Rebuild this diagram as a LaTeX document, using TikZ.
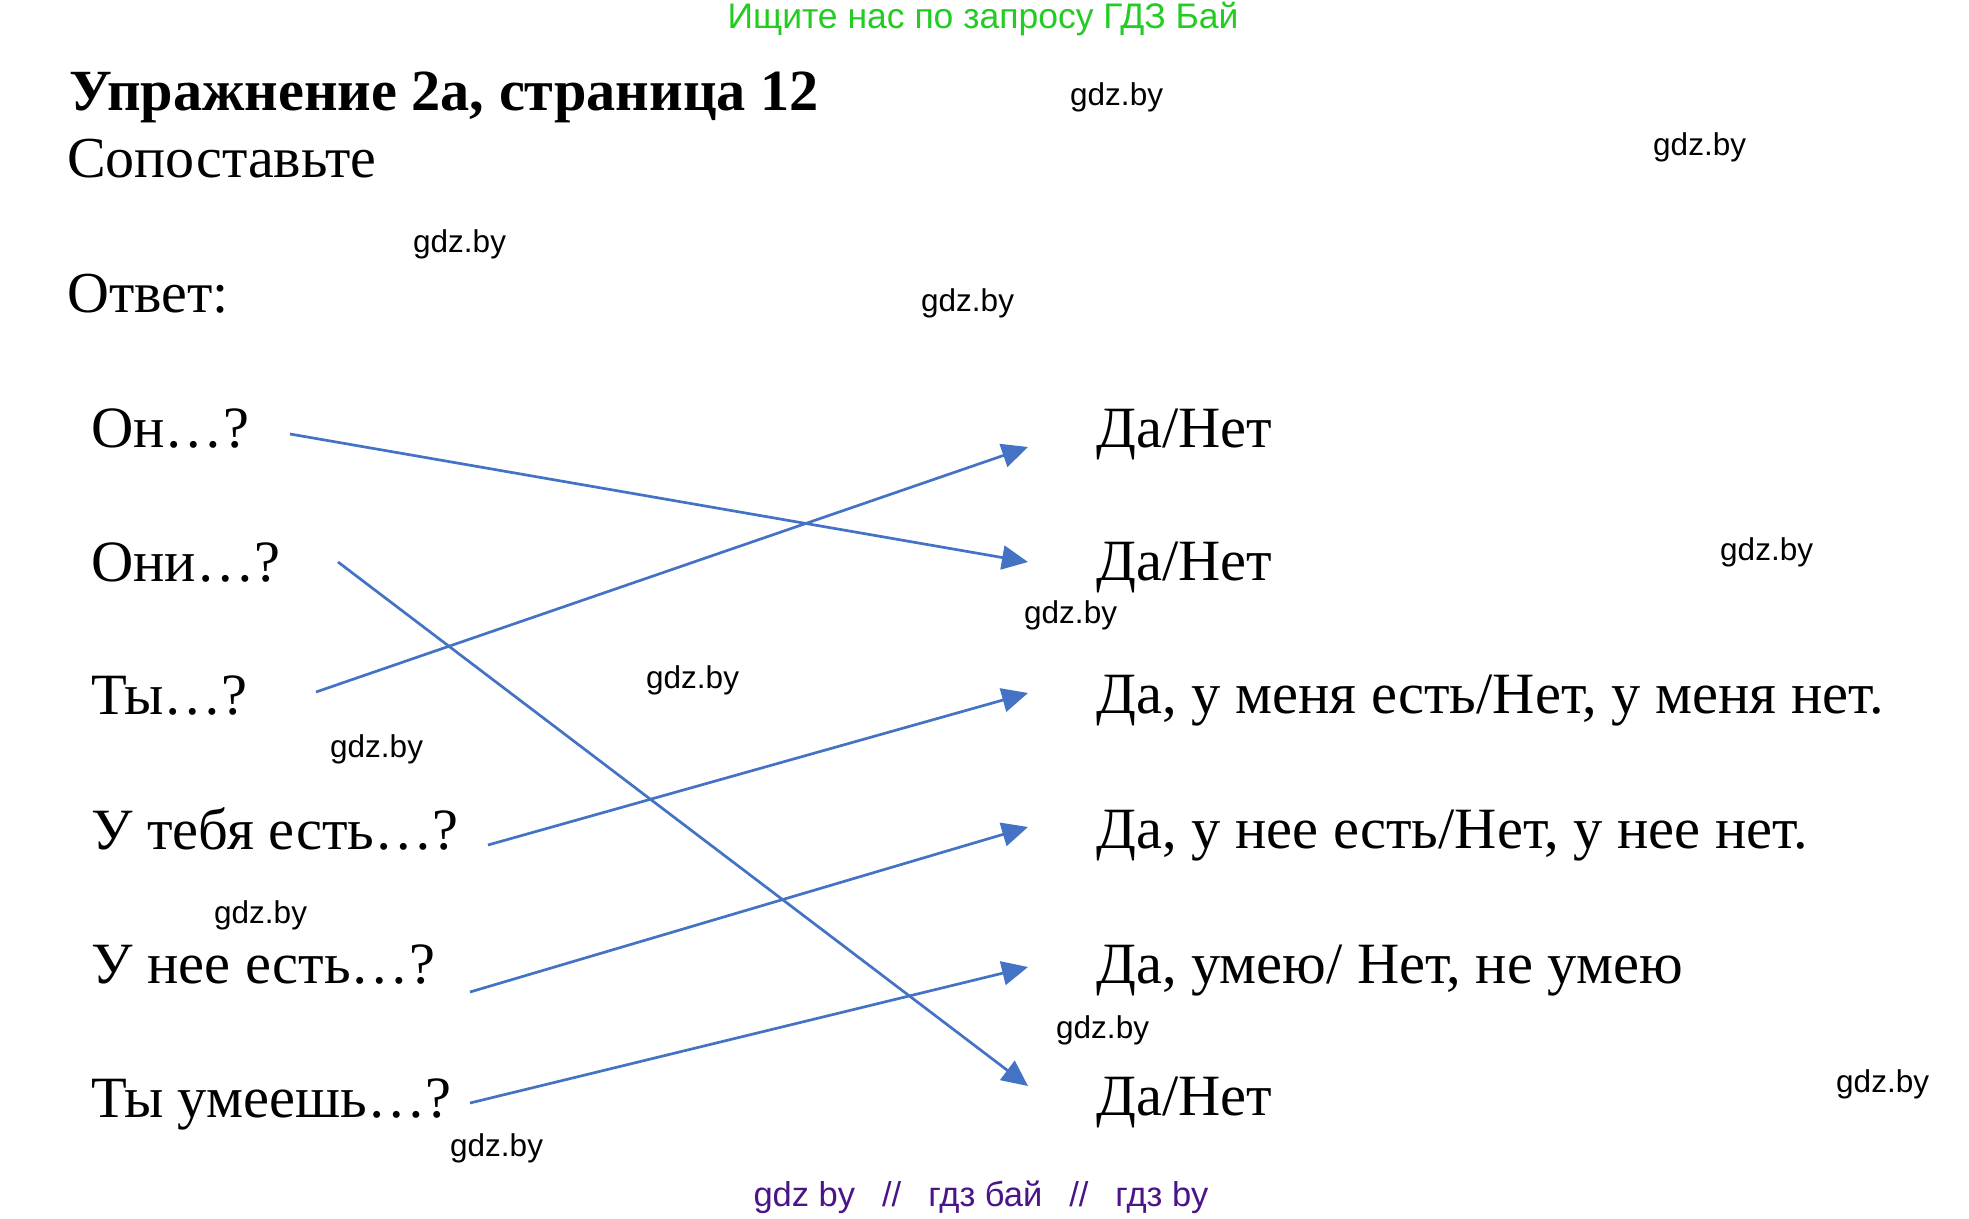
\documentclass[tikz,border=0pt]{standalone}
\usepackage{fontspec}
\setmainfont{Liberation Serif}
\newfontfamily\wmfont{Liberation Sans}
\usetikzlibrary{arrows.meta}
\definecolor{arrowblue}{HTML}{4472C4}
\definecolor{topgreen}{HTML}{22CC22}
\definecolor{botpurple}{HTML}{4B1487}
\begin{document}
\begin{tikzpicture}[x=1pt,y=-1pt,
  item/.style={anchor=base west,inner sep=0pt,font=\fontsize{58.5}{60}\selectfont},
  head/.style={anchor=base west,inner sep=0pt,font=\fontsize{58}{60}\selectfont},
  wm/.style={anchor=base west,inner sep=0pt,font=\wmfont\fontsize{31.5}{32}\selectfont},
  link/.style={draw=arrowblue,line width=2.7pt,-{Triangle[length=26pt,width=24pt]}}]
\useasboundingbox[fill=white] (0,0) rectangle (1969,1218);

% header texts
\node[anchor=base,inner sep=0pt,font=\wmfont\fontsize{35.5}{38}\selectfont,text=topgreen] (top) at (983,28) {Ищите нас по запросу ГДЗ Бай};
\node[anchor=base west,inner sep=0pt,font=\bfseries\fontsize{58.3}{60}\selectfont] (title) at (69,110) {Упражнение 2а, страница 12};
\node[head] (task) at (67,177) {Сопоставьте};
\node[head] (answer) at (67,312) {Ответ:};

% left column
\node[item] (l1) at (91,447) {Он…?};
\node[item] (l2) at (91,581) {Они…?};
\node[item] (l3) at (91,714) {Ты…?};
\node[item] (l4) at (91,849) {У тебя есть…?};
\node[item] (l5) at (91,983) {У нее есть…?};
\node[item] (l6) at (91,1117) {Ты умеешь…?};

% right column
\node[item] (r1) at (1096,447) {Да/Нет};
\node[item] (r2) at (1096,580) {Да/Нет};
\node[item] (r3) at (1096,713) {Да, у меня есть/Нет, у меня нет.};
\node[item] (r4) at (1096,848) {Да, у нее есть/Нет, у нее нет.};
\node[item] (r5) at (1096,983) {Да, умею/ Нет, не умею};
\node[item] (r6) at (1096,1115) {Да/Нет};

% connector ends
\coordinate (s1) at (290,434);  \coordinate (t1) at (1028,562);
\coordinate (s2) at (338,562);  \coordinate (t2) at (1028,1086);
\coordinate (s3) at (316,692);  \coordinate (t3) at (1028,447);
\coordinate (s4) at (488,845);  \coordinate (t4) at (1028,693);
\coordinate (s5) at (470,992);  \coordinate (t5) at (1028,827);
\coordinate (s6) at (470,1103); \coordinate (t6) at (1028,967);

\draw[link] (s1) -- (t1);
\draw[link] (s2) -- (t2);
\draw[link] (s3) -- (t3);
\draw[link] (s4) -- (t4);
\draw[link] (s5) -- (t5);
\draw[link] (s6) -- (t6);

% watermarks
\node[wm] (w1) at (1070,105) {gdz.by};
\node[wm] (w2) at (1653,155) {gdz.by};
\node[wm] (w3) at (413,252) {gdz.by};
\node[wm] (w4) at (921,311) {gdz.by};
\node[wm] (w5) at (1720,560) {gdz.by};
\node[wm] (w6) at (1024,623) {gdz.by};
\node[wm] (w7) at (646,688) {gdz.by};
\node[wm] (w8) at (330,757) {gdz.by};
\node[wm] (w9) at (214,923) {gdz.by};
\node[wm] (w10) at (1056,1038) {gdz.by};
\node[wm] (w11) at (1836,1092) {gdz.by};
\node[wm] (w12) at (450,1156) {gdz.by};

\node[anchor=base,inner sep=0pt,font=\wmfont\fontsize{34.5}{38}\selectfont,text=botpurple] (bottom) at (981,1206) {gdz by\hspace{27pt}//\hspace{27pt}гдз бай\hspace{27pt}//\hspace{27pt}гдз by};
\end{tikzpicture}
\end{document}
